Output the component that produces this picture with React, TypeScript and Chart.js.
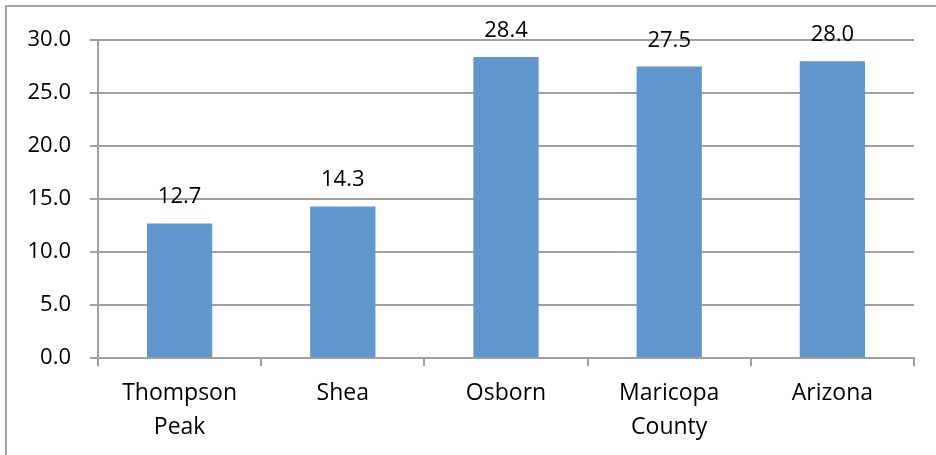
import React, { useEffect, useRef } from "react";
import { Chart, registerables } from "chart.js";

Chart.register(...registerables);

const categories: (string | string[])[] = [["Thompson", "Peak"], "Shea", "Osborn", ["Maricopa", "County"], "Arizona"];
const values: number[] = [12.7, 14.3, 28.4, 27.5, 28.0];
const yTicks: number[] = [0, 5, 10, 15, 20, 25, 30];

const FONT = "'Open Sans', sans-serif";

const labelPlugin = {
  id: "valueLabels",
  afterDatasetsDraw(chart: any) {
    const ctx = chart.ctx;
    const meta = chart.getDatasetMeta(0);
    ctx.save();
    ctx.font = `22px ${FONT}`;
    ctx.fillStyle = "#000";
    ctx.textAlign = "center";
    ctx.textBaseline = "alphabetic";
    meta.data.forEach((bar: any, i: number) => {
      ctx.fillText(values[i].toFixed(1), bar.x, bar.y - 20);
    });
    ctx.restore();
  },
};

const borderPlugin = {
  id: "outerBorder",
  beforeDraw(chart: any) {
    const ctx = chart.ctx;
    ctx.save();
    ctx.fillStyle = "#fff";
    ctx.fillRect(0, 0, chart.width, chart.height);
    ctx.strokeStyle = "#A6A6A6";
    ctx.lineWidth = 2;
    ctx.beginPath();
    ctx.moveTo(6, chart.height + 5);
    ctx.lineTo(6, 6);
    ctx.lineTo(chart.width + 5, 6);
    ctx.stroke();
    ctx.restore();
  },
};

export default function App() {
  const ref = useRef<HTMLCanvasElement>(null);
  useEffect(() => {
    document.body.style.margin = "0";
    const chart = new Chart(ref.current!, {
      type: "bar",
      data: {
        labels: categories,
        datasets: [
          {
            data: values,
            backgroundColor: "#6096CB",
            barPercentage: 0.4,
            categoryPercentage: 1,
          },
        ],
      },
      options: {
        responsive: false,
        animation: false,
        layout: { padding: { left: 0, top: 40, right: 22, bottom: 0 } },
        plugins: { legend: { display: false }, tooltip: { enabled: false } },
        scales: {
          x: {
            grid: {
              offset: true,
              drawOnChartArea: false,
              drawTicks: true,
              tickLength: 8,
              color: "#A0A0A0",
              lineWidth: 2,
            },
            border: { color: "#A0A0A0", width: 2 },
            ticks: {
              color: "#000",
              font: { family: FONT, size: 23, lineHeight: 1.45 },
              padding: 11,
              maxRotation: 0,
              autoSkip: false,
            },
            afterFit(scale: any) {
              scale.height = 455 - 358;
            },
          },
          y: {
            min: 0,
            max: 30,
            afterBuildTicks(scale: any) {
              scale.ticks = yTicks.map((v) => ({ value: v }));
            },
            grid: { color: "#A0A0A0", lineWidth: 2, tickLength: 8 },
            border: { color: "#A0A0A0", width: 2 },
            ticks: {
              color: "#000",
              font: { family: FONT, size: 22 },
              padding: 19,
              callback: (v: any) => Number(v).toFixed(1),
            },
            afterFit(scale: any) {
              scale.width = 98;
            },
          },
        },
      },
      plugins: [borderPlugin, labelPlugin],
    });
    return () => chart.destroy();
  }, []);
  return <canvas ref={ref} width={936} height={455} style={{ display: "block" }} />;
}
